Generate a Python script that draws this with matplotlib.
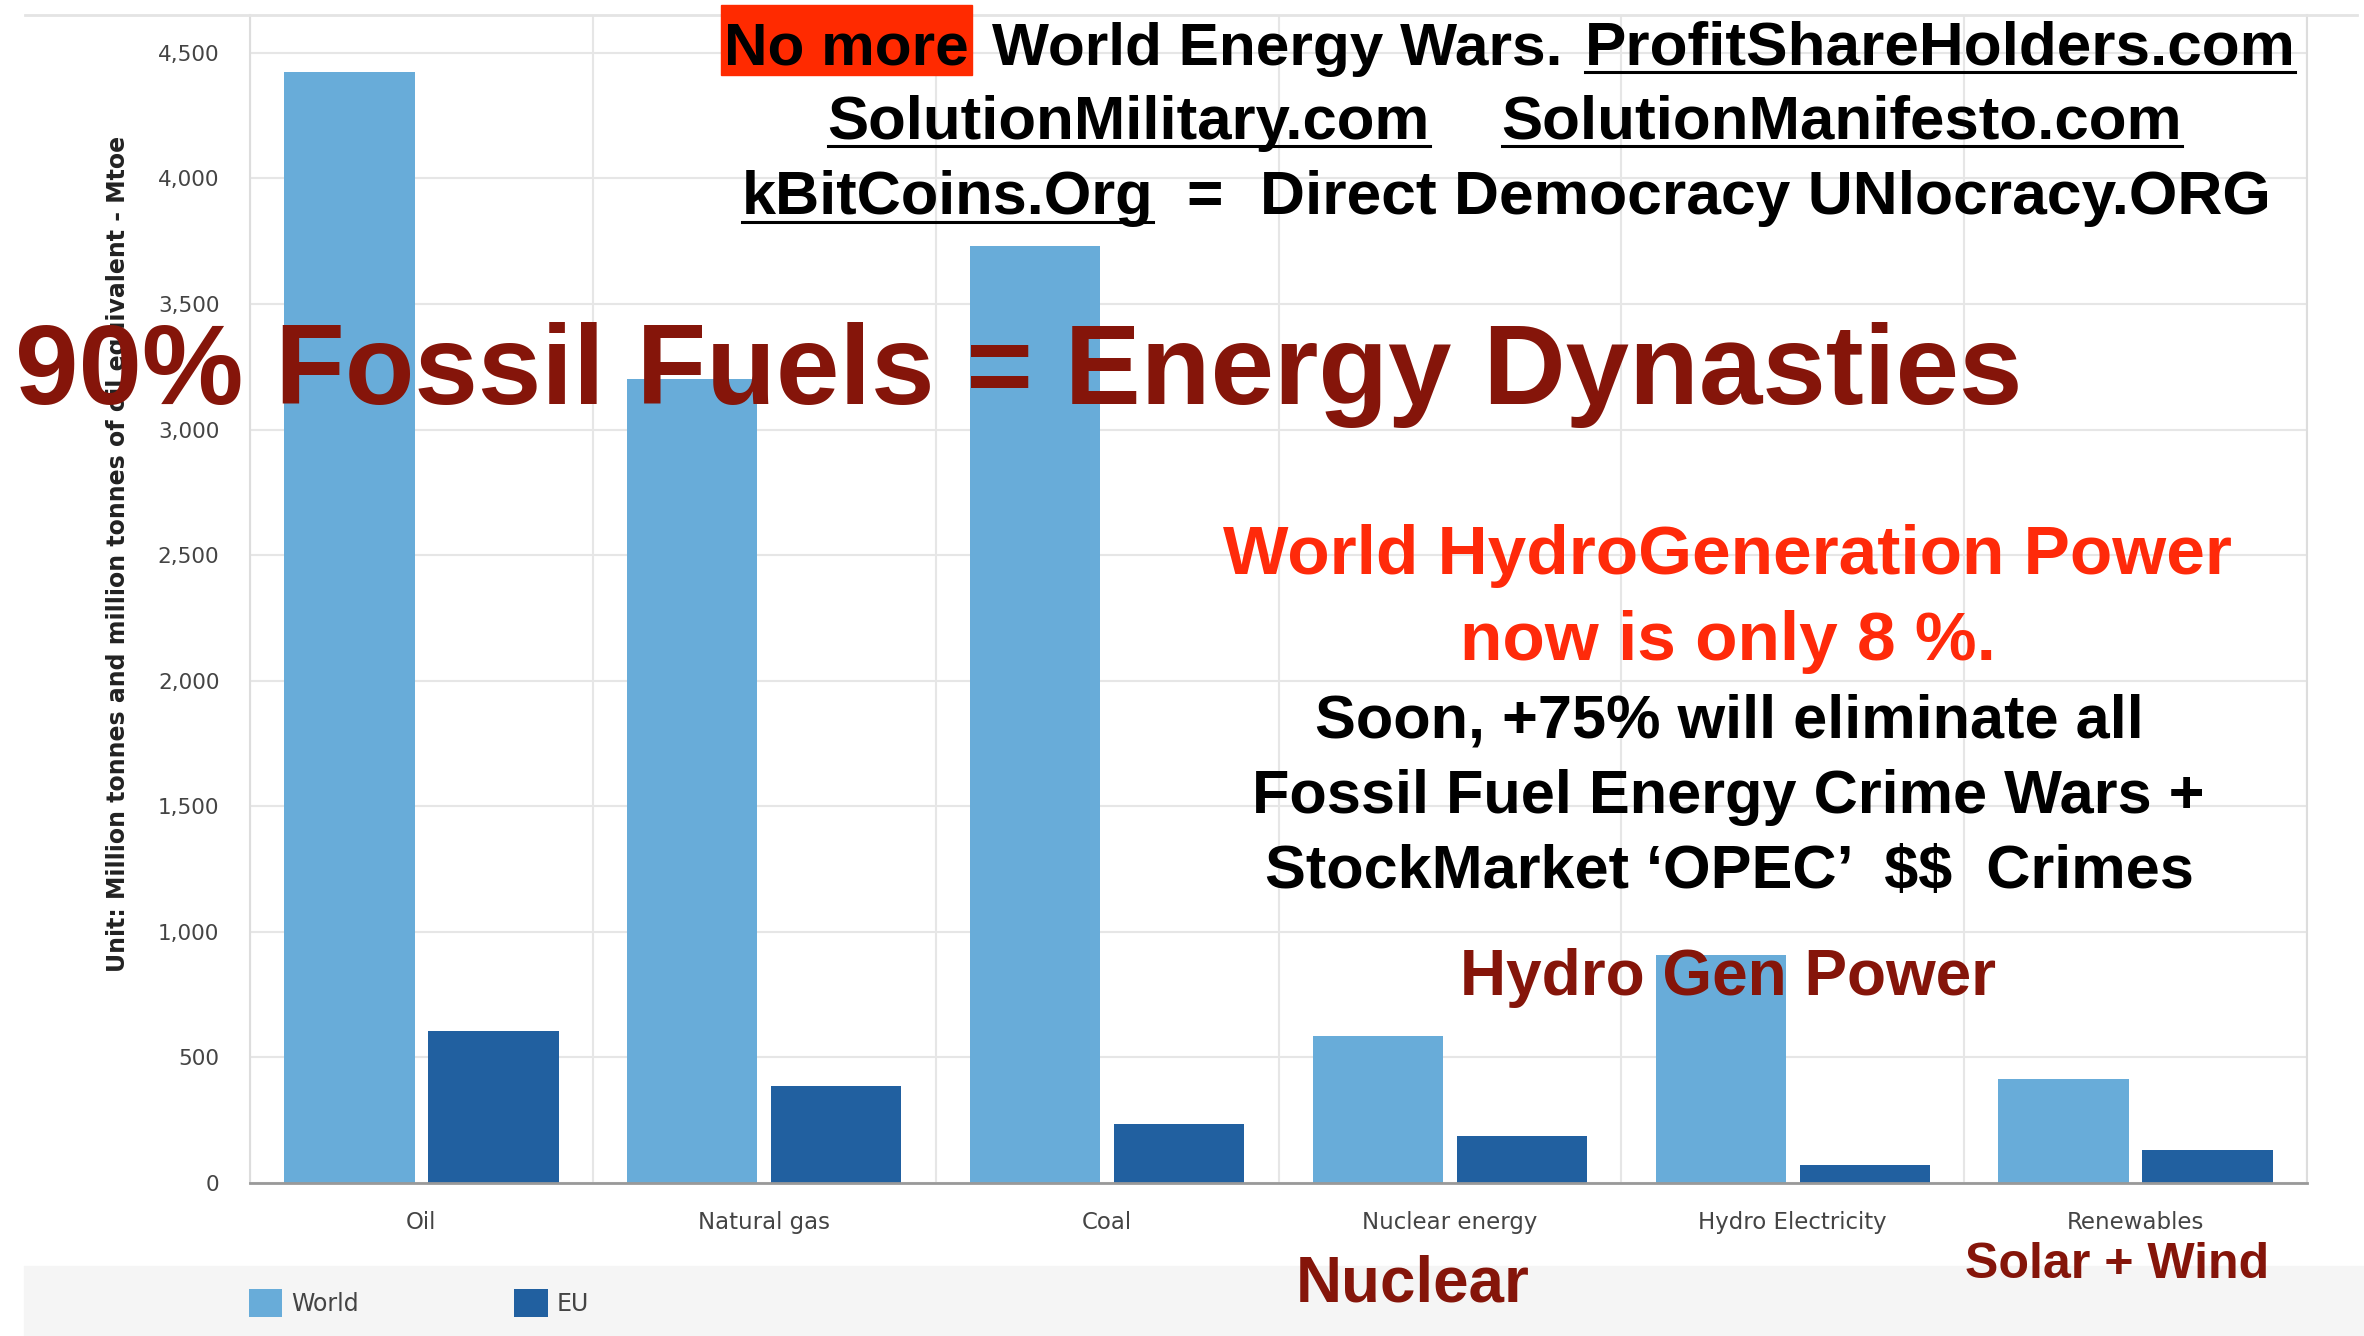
import numpy as np
import matplotlib.pyplot as plt
from matplotlib.lines import Line2D
from matplotlib.patches import Rectangle

categories = ['Oil', 'Natural gas', 'Coal', 'Nuclear energy', 'Hydro Electricity', 'Renewables']
world = [4425, 3200, 3730, 585, 907, 415]
eu = [607, 385, 234, 186, 72, 132]
yticks = [0, 500, 1000, 1500, 2000, 2500, 3000, 3500, 4000, 4500]
ytick_labels = ['0', '500', '1,000', '1,500', '2,000', '2,500', '3,000', '3,500', '4,000', '4,500']

W, H = 2364, 1336
S = W / 1568  # reference was read at 1568 px wide

WORLD_C = '#68acd9'
EU_C = '#2160a0'
DARKRED = '#85150a'
RED = '#ff2a0a'
BOLD = dict(family='Liberation Sans', weight='bold', parse_math=False)

fig = plt.figure(figsize=(W / 100, H / 100), dpi=100)
ax = fig.add_axes([250 / W, 153 / H, 2057 / W, 1168 / H])

x = np.arange(len(categories))
ax.bar(x - 0.21, world, 0.38, color=WORLD_C, label='World', zorder=2)
ax.bar(x + 0.21, eu, 0.38, color=EU_C, label='EU', zorder=2)

ax.set_xlim(-0.5, len(categories) - 0.5)
ax.set_ylim(0, 4651)
ax.set_yticks(yticks)
ax.set_yticklabels(ytick_labels)
ax.set_xticks(x)
ax.set_xticklabels(categories)
ax.tick_params(axis='y', length=0, pad=22, labelsize=15.5, labelcolor='#444444')
ax.tick_params(axis='x', length=0, pad=20, labelsize=16.5, labelcolor='#444444')
ax.set_xticks(np.arange(len(categories) + 1) - 0.5, minor=True)
ax.grid(True, axis='y', color='#e6e6e6', lw=1.5, zorder=0)
ax.grid(True, axis='x', which='minor', color='#e6e6e6', lw=1.5, zorder=0)
ax.tick_params(axis='x', which='minor', length=0)
ax.spines['top'].set_visible(False)
for s in ['left', 'right']:
    ax.spines[s].set_color('#dddddd')
    ax.spines[s].set_linewidth(1.5)
ax.spines['bottom'].set_color('#999999')
ax.spines['bottom'].set_linewidth(2)

ax.set_ylabel('Unit: Million tonnes and million tonnes of oil equivalent - Mtoe',
              fontsize=17, fontweight='bold', color='#222222')
ax.yaxis.set_label_coords(-0.0585, 0.539)

# legend strip at the bottom
fig.add_artist(Rectangle((24 / W, 0), 1, 70 / H, transform=fig.transFigure,
                         color='#f5f5f5', zorder=-1))
fig.add_artist(Line2D([25 / W, 2357 / W], [1 - 15 / H] * 2, color='#e4e4e4', lw=2, zorder=0.5))
leg = ax.legend(loc='center left', bbox_to_anchor=(249 / W, 33 / H),
                bbox_transform=fig.transFigure, ncol=2, frameon=False, fontsize=17,
                borderpad=0, borderaxespad=0, handlelength=1.4, handleheight=1.4,
                handletextpad=0.38, columnspacing=6.6)
for t in leg.get_texts():
    t.set_color('#444444')

renderer = fig.canvas.get_renderer()


def fy(y):
    return 1 - y * S / H


def fx(xx):
    return xx * S / W


def fit_size(s, width):
    t = fig.text(0, 0, s, fontsize=40, **BOLD)
    w = t.get_window_extent(renderer).width
    t.remove()
    return 40 * width * S / w


def put(xx, yy, s, size, color='black', ha='left'):
    return fig.text(fx(xx), fy(yy), s, fontsize=size, color=color, ha=ha,
                    va='baseline', **BOLD)


def underline(t, yy):
    bb = t.get_window_extent(renderer)
    fig.add_artist(Line2D([bb.x0 / W, bb.x1 / W], [fy(yy)] * 2, color='black', lw=2.2, zorder=4))


# header lines
fig.add_artist(Rectangle((fx(478), fy(50)), 167 * S / W, 47 * S / H,
                         transform=fig.transFigure, color='#ff2a00', zorder=1))
put(480, 43, 'No more', fit_size('No more', 162))
put(658, 43, 'World Energy Wars.', fit_size('World Energy Wars.', 378))
underline(put(1051, 43, 'ProfitShareHolders.com', fit_size('ProfitShareHolders.com', 471)), 48)

s2 = fit_size('SolutionManifesto.com', 451)
underline(put(549, 92, 'SolutionMilitary.com', fit_size('SolutionMilitary.com', 399)), 97)
underline(put(996, 92, 'SolutionManifesto.com', s2), 97)

s3 = fit_size('Direct Democracy UNlocracy.ORG', 670)
underline(put(492, 142, 'kBitCoins.Org', fit_size('kBitCoins.Org', 273)), 147)
put(799, 142, '=', s3, ha='center')
put(836, 142, 'Direct Democracy UNlocracy.ORG', s3)

# big headline
put(10, 268, '90% Fossil Fuels = Energy Dynasties',
    fit_size('90% Fossil Fuels = Energy Dynasties', 1330), DARKRED)

# hydro notes
s4 = fit_size('World HydroGeneration Power', 668)
put(1146, 381, 'World HydroGeneration Power', s4, RED, ha='center')
put(1146, 438, 'now is only 8 %.', s4, RED, ha='center')
s5 = fit_size('Fossil Fuel Energy Crime Wars +', 631)
put(1147, 489, 'Soon, +75% will eliminate all', s5, ha='center')
put(1146, 539, 'Fossil Fuel Energy Crime Wars +', s5, ha='center')
put(1147, 589, 'StockMarket \u2018OPEC\u2019  $$  Crimes', s5, ha='center')
put(1146, 660, 'Hydro Gen Power', fit_size('Hydro Gen Power', 355), DARKRED, ha='center')
put(937, 863, 'Nuclear', fit_size('Nuclear', 155), DARKRED, ha='center')
put(1404, 848, 'Solar + Wind', fit_size('Solar + Wind', 202), DARKRED, ha='center')

fig.savefig('out.png', dpi=100)
